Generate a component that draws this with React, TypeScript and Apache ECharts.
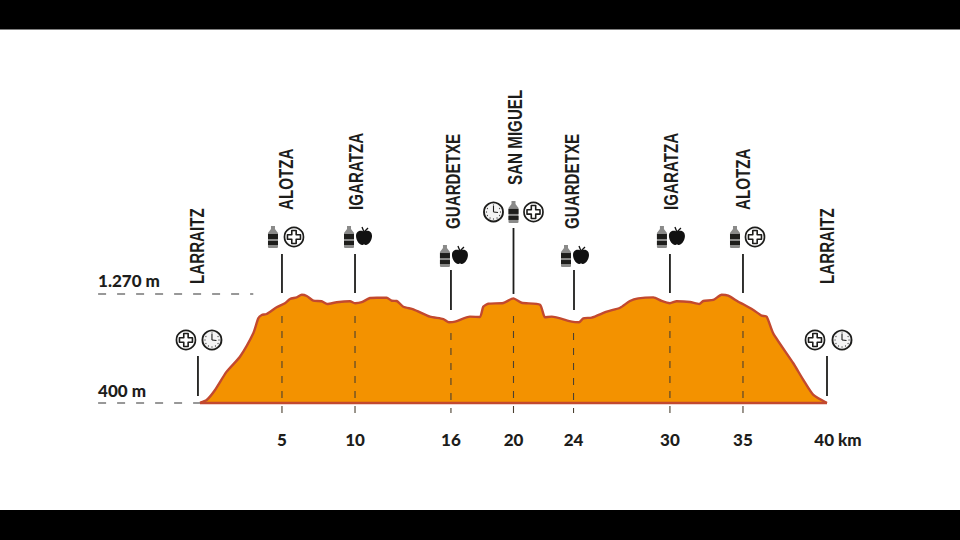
import React, { useEffect, useRef } from "react";
import * as echarts from "echarts";

// Profile: distance (km) and elevation (m)
const profileKm = [0, 0.43, 0.96, 1.7, 2.55, 3.4, 3.72, 3.94, 4.25, 4.89, 5.42, 5.74, 6.17, 6.49, 6.81, 7.23, 7.76, 8.12, 8.72, 9.57, 9.89, 10.32, 10.85, 11.27, 11.91, 12.23, 12.55, 12.97, 13.61, 14.67, 15.52, 15.88, 16.27, 17.22, 17.86, 18.07, 18.39, 19.35, 19.99, 20.52, 21.69, 22.01, 22.44, 23.71, 24.18, 24.45, 24.99, 25.95, 26.8, 27.43, 27.96, 28.92, 29.45, 29.98, 30.41, 31.26, 31.85, 32.11, 32.75, 33.28, 33.7, 34.34, 34.66, 35.3, 35.83, 36.15, 36.57, 37.85, 38.49, 39.13, 40];
const profileM = [400, 424, 504, 650, 769, 956, 1076, 1102, 1110, 1164, 1196, 1230, 1243, 1264, 1254, 1216, 1212, 1190, 1204, 1212, 1196, 1204, 1238, 1240, 1240, 1216, 1214, 1168, 1148, 1089, 1070, 1044, 1049, 1089, 1086, 1168, 1192, 1198, 1235, 1200, 1184, 1084, 1089, 1049, 1044, 1076, 1081, 1129, 1160, 1214, 1235, 1243, 1214, 1196, 1212, 1206, 1190, 1214, 1222, 1264, 1256, 1208, 1188, 1142, 1097, 1089, 956, 717, 584, 464, 400];

const tickLabels = ["5", "10", "16", "20", "24", "30", "35", "40 km"];
const tickKm = [5.23, 9.89, 16.01, 20.0, 23.83, 29.98, 34.64, 40];
const tickTopM = [1094, 1094, 959, 1094, 959, 1094, 1094];

const stopNames = ["LARRAITZ", "ALOTZA", "IGARATZA", "GUARDETXE", "SAN MIGUEL", "GUARDETXE", "IGARATZA", "ALOTZA", "LARRAITZ"];
const stopKm = [-0.13, 5.23, 9.89, 16.01, 20.0, 23.86, 29.98, 34.64, 40];
const stemTopM = [775, 1589, 1589, 1461, 1797, 1461, 1589, 1589, 775];
const stemBottomM = [456, 1278, 1278, 1142, 1270, 1142, 1278, 1278, 456];
const stopIcons = [
  ["plus", "clock"],
  ["bottle", "plus"],
  ["bottle", "apple"],
  ["bottle", "apple"],
  ["clock", "bottle", "plus"],
  ["bottle", "apple"],
  ["bottle", "apple"],
  ["bottle", "plus"],
  ["plus", "clock"],
];

const elevationTicks = [400, 1270];
const elevationLabels = ["400 m", "1.270 m"];
const guideEndKm = [0, 3.4];

// Layout of the annotation glyphs, in pixels relative to each stem's top
const iconDx = [[-12, 14], [-9, 12], [-6, 9], [-6, 9], [-20, 0, 20], [-8, 7], [-8, 7], [-8, 12], [-12, 15]];
const iconDy = [-16, -17, -17, -14, -16, -14, -17, -17, -16];
const labelDx = [-1, 4, 1, 2, 2, -2, 1, 0, 0];
const labelDy = [-72, -44, -44, -41, -43, -41, -44, -44, -72];

const FONT = '"Liberation Sans", sans-serif';
const AXIS_FONT = 'Lato, "Liberation Sans", sans-serif';
const INK = "#1d1d1b";
const ORANGE = "#F39200";
const RED = "#C2492F";

const applePath = "M0,-5 C-2,-7 -8,-7 -8,-1 C-8,4 -4,8 -2,8 C-1,8 -1,7.5 0,7.5 C1,7.5 1,8 2,8 C4,8 8,4 8,-1 C8,-7 2,-7 0,-5 Z";
const plusPath = "M-2.2,-6.5 L2.2,-6.5 L2.2,-2.2 L6.5,-2.2 L6.5,2.2 L2.2,2.2 L2.2,6.5 L-2.2,6.5 L-2.2,2.2 L-6.5,2.2 L-6.5,-2.2 L-2.2,-2.2 Z";
const bottlePath = "M-2,-11 L2,-11 L2,-8 L5,-4 L5,10 Q5,11 4,11 L-4,11 Q-5,11 -5,10 L-5,-4 L-2,-8 Z";

function iconChildren(kind: string) {
  if (kind === "bottle") {
    return [
      { type: "path", shape: { pathData: bottlePath }, style: { fill: "#8a8a89" } },
      { type: "rect", shape: { x: -5, y: -3, width: 10, height: 5 }, style: { fill: INK } },
      { type: "rect", shape: { x: -5, y: 4, width: 10, height: 4 }, style: { fill: INK } },
    ];
  }
  if (kind === "apple") {
    return [
      { type: "path", shape: { pathData: applePath }, style: { fill: "#111" } },
      { type: "line", shape: { x1: 0, y1: -5, x2: -2, y2: -10 }, style: { stroke: "#111", lineWidth: 1.3 } },
      { type: "line", shape: { x1: 0, y1: -5, x2: 4, y2: -9 }, style: { stroke: "#111", lineWidth: 1.3 } },
    ];
  }
  if (kind === "plus") {
    return [
      { type: "circle", shape: { cx: 0, cy: 0, r: 9.5 }, style: { fill: "#fff", stroke: INK, lineWidth: 1.7 } },
      { type: "path", shape: { pathData: plusPath }, style: { fill: "#fff", stroke: INK, lineWidth: 1.6, lineJoin: "round" } },
    ];
  }
  const marks = [0, 1, 2, 3, 4, 5, 6, 7, 8, 9, 10, 11].map((i) => {
    const a = (i * Math.PI) / 6;
    return {
      type: "circle",
      shape: { cx: 7 * Math.cos(a), cy: 7 * Math.sin(a), r: 0.6 },
      style: { fill: "#444" },
    };
  });
  return [
    { type: "circle", shape: { cx: 0, cy: 0, r: 9.5 }, style: { fill: "#f4f4f4", stroke: INK, lineWidth: 1.9 } },
    ...marks,
    { type: "line", shape: { x1: 0, y1: 0, x2: 0, y2: -6 }, style: { stroke: INK, lineWidth: 1.1 } },
    { type: "line", shape: { x1: 0, y1: 0, x2: 4.5, y2: 0.5 }, style: { stroke: INK, lineWidth: 1.1 } },
  ];
}

const renderStop = (params: any, api: any) => {
  const i = params.dataIndex;
  const top = api.coord([api.value(0), api.value(1)]);
  const icons = stopIcons[i].map((kind, k) => ({
    type: "group",
    x: top[0] + iconDx[i][k],
    y: top[1] + iconDy[i],
    children: iconChildren(kind),
  }));
  return {
    type: "group",
    children: [
      ...icons,
      {
        type: "text",
        x: top[0] + labelDx[i],
        y: top[1] + labelDy[i],
        rotation: Math.PI / 2,
        scaleX: 0.74,
        style: {
          text: stopNames[i],
          align: "left",
          verticalAlign: "middle",
          font: `bold 20.5px ${FONT}`,
          fill: INK,
        },
      },
    ],
  };
};

function vLine(km: number, from: number, to: number, style: any) {
  return {
    type: "line",
    silent: true,
    symbol: "none",
    z: 5,
    data: [[km, from], [km, to]],
    lineStyle: style,
  };
}

export default function App() {
  const ref = useRef<HTMLDivElement>(null);
  useEffect(() => {
    document.body.style.margin = "0";
    const chart = echarts.init(ref.current!, null, { renderer: "svg" });
    chart.setOption({
      animation: false,
      backgroundColor: "#fff",
      graphic: [
        { type: "rect", left: 0, top: 0, shape: { width: 960, height: 29.5 }, style: { fill: "#000" } },
        { type: "rect", left: 0, top: 510, shape: { width: 960, height: 30 }, style: { fill: "#000" } },
      ],
      grid: { left: 98.1, right: 133, top: 77.2, height: 335.8 },
      xAxis: {
        type: "value",
        min: -6.5,
        max: 40,
        axisLine: { show: false },
        axisTick: { show: false },
        splitLine: { show: false },
        axisLabel: {
          customValues: tickKm,
          margin: 18,
          formatter: (v: number) => {
            const label = tickLabels[tickKm.indexOf(v)];
            return label.includes("km") ? `{k|${label}}` : label;
          },
          fontFamily: AXIS_FONT,
          fontWeight: 900,
          fontSize: 17,
          color: INK,
          hideOverlap: false,
          showMinLabel: true,
          showMaxLabel: true,
          rich: {
            k: { fontFamily: AXIS_FONT, fontWeight: 900, fontSize: 17, color: INK, padding: [0, 0, 0, 22] },
          },
        },
      },
      yAxis: {
        type: "value",
        min: 320,
        max: 3000,
        axisLine: { show: false },
        axisTick: { show: false },
        splitLine: { show: false },
        axisLabel: {
          inside: true,
          margin: 0,
          customValues: elevationTicks,
          verticalAlign: "bottom",
          align: "left",
          lineHeight: 24,
          formatter: (v: number) => {
            const label = elevationLabels[elevationTicks.indexOf(v)];
            return v === 1270 ? `{hi|${label}}` : label;
          },
          fontFamily: AXIS_FONT,
          fontWeight: 900,
          fontSize: 17,
          color: INK,
          rich: {
            hi: { fontFamily: AXIS_FONT, fontWeight: 900, fontSize: 17, color: INK, lineHeight: 24, padding: [0, 0, 2, 0] },
          },
        },
      },
      series: [
        {
          type: "line",
          silent: true,
          symbol: "none",
          z: 2,
          smooth: 0.2,
          data: profileKm.map((km, i) => [km, profileM[i]]),
          lineStyle: { color: RED, width: 2.4, join: "round" },
          areaStyle: { color: ORANGE, opacity: 1, origin: 400 },
        },
        {
          type: "line",
          silent: true,
          symbol: "none",
          z: 3,
          data: [[0, 400], [40, 400]],
          lineStyle: { color: RED, width: 2.6 },
        },
        ...elevationTicks.map((m, i) => ({
          type: "line",
          silent: true,
          symbol: "none",
          z: 3,
          data: [[-6.5, m], [guideEndKm[i], m]],
          lineStyle: { color: "#333", width: 1.1, type: [8, 11] },
        })),
        ...tickKm.slice(0, 7).map((km, i) =>
          vLine(km, tickTopM[i], 320, { color: "#4a4030", width: 1.1, type: [7, 8] })
        ),
        ...stopKm.map((km, i) =>
          vLine(km, stemTopM[i], stemBottomM[i], { color: INK, width: 1.8 })
        ),
        {
          type: "custom",
          silent: true,
          z: 6,
          clip: false,
          renderItem: renderStop,
          encode: { x: 0, y: 1 },
          data: stopKm.map((km, i) => [km, stemTopM[i]]),
        },
      ],
    });
    return () => chart.dispose();
  }, []);
  return <div ref={ref} style={{ width: 960, height: 540 }} />;
}
